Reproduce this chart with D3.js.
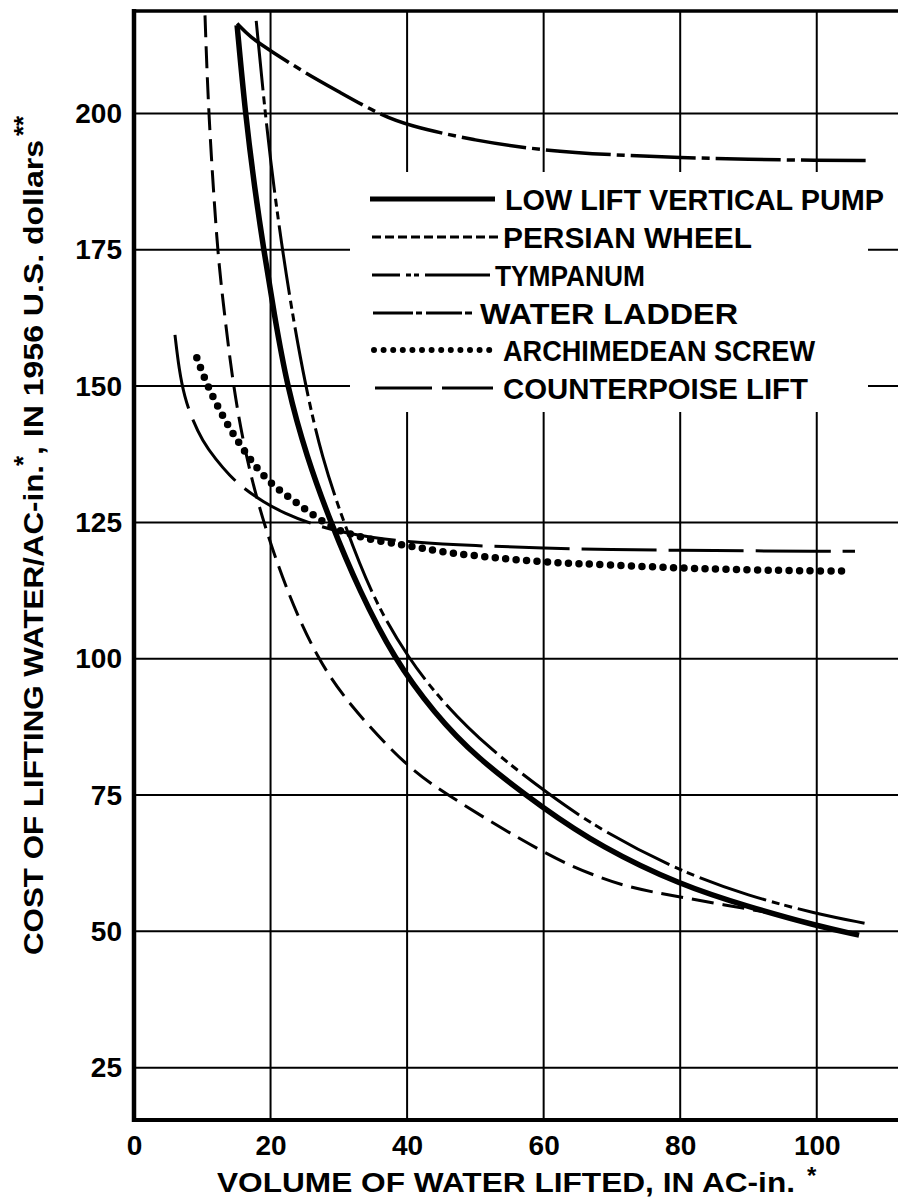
<!DOCTYPE html>
<html>
<head>
<meta charset="utf-8">
<script src="https://cdn.jsdelivr.net/npm/d3@7"></script>
<style>
  body { margin: 0; background: #fff; }
  text { font-family: "Liberation Sans", Arial, sans-serif; font-weight: bold; fill: #000; }
</style>
</head>
<body>
<svg id="chart" width="898" height="1200"></svg>
<script>
// ---- Axis ticks ----
const xTicks = [0, 20, 40, 60, 80, 100];
const yTicks = [25, 50, 75, 100, 125, 150, 175, 200];

// ---- Series (volume in AC-in., cost in 1956 U.S. dollars per AC-in.) ----
const seriesNames = [
  "LOW LIFT VERTICAL PUMP",
  "PERSIAN WHEEL",
  "TYMPANUM",
  "WATER LADDER",
  "ARCHIMEDEAN SCREW",
  "COUNTERPOISE LIFT"
];

const lowLiftVolume = [15.1, 16.3, 17.7, 19.0, 20.5, 22.4, 25.3, 28.8, 33, 38.1, 44, 50, 60, 68.4, 80, 90, 100, 106.2];
const lowLiftCost   = [216.2, 200, 186, 175, 163.5, 150, 137, 125, 112.5, 100, 90, 82, 72.5, 65.5, 58.5, 54.5, 51, 49.3];

const persianVolume = [10.4, 10.9, 12.2, 13.0, 14.5, 16.4, 18.9, 22.8, 26.9, 31.2, 40, 46, 53, 60, 64, 68.4, 72, 76, 80, 88, 95];
const persianCost   = [218, 200, 175, 166, 150, 137, 125, 111, 100, 92, 80, 75, 69.5, 64.5, 62, 59.8, 58.3, 57.2, 56.3, 54.5, 53];

const tympanumVolume = [17.9, 19.2, 20.7, 22.8, 25.1, 27.5, 30.7, 35, 40.2, 45.2, 52, 60.9, 68.4, 80, 90, 100, 107];
const tympanumCost   = [217, 200, 184, 166, 150, 137, 125, 111, 100, 92, 83.5, 75, 68.5, 61, 56.5, 53.2, 51.5];

const ladderVolume = [15.1, 17, 20, 25, 30, 35.7, 40, 50, 60, 70, 80, 90, 100, 108];
const ladderCost   = [216.5, 214, 211.5, 207.5, 204, 200, 197.8, 195, 193.2, 192.4, 191.9, 191.6, 191.4, 191.4];

const screwVolume = [9.2, 10.7, 12.3, 14.1, 15.8, 17.4, 19.5, 21.8, 24.3, 26.8, 29.7, 32.6, 35.7, 39.4, 45.8, 53.1, 59.9, 69.7, 80.2, 90, 99.7, 104.5];
const screwCost   = [155.2, 150.2, 146.2, 142, 138.8, 135.9, 132.8, 130.4, 128.2, 125.8, 123.6, 122.5, 121.6, 120.9, 119.4, 118.5, 117.7, 117.2, 116.6, 116.3, 116.1, 116.1];

const counterVolume = [6, 6.6, 7.4, 8.5, 10, 12, 14, 16, 19, 22, 25.8, 30, 35, 40.4, 50, 60, 70, 80, 90, 100, 105.6];
const counterCost   = [159.4, 153, 148, 144, 140, 136.5, 133.6, 131.3, 128.7, 126.7, 124.8, 123.3, 122.2, 121.4, 120.7, 120.3, 120, 119.9, 119.8, 119.7, 119.7];

// ---- Scales ----
const x = d3.scaleLinear().domain([0, 111.9]).range([134, 898]);
const y = d3.scaleLinear().domain([15.4, 218.8]).range([1120, 11]);

const svg = d3.select("#chart");

// ---- Grid ----
const grid = svg.append("g").attr("stroke", "#000").attr("stroke-width", 2);
grid.selectAll("line.h").data(yTicks).join("line")
  .attr("class", "h")
  .attr("x1", x(0)).attr("x2", 898)
  .attr("y1", d => y(d)).attr("y2", d => y(d));
grid.selectAll("line.v").data(xTicks.filter(d => d > 0)).join("line")
  .attr("class", "v")
  .attr("x1", d => x(d)).attr("x2", d => x(d))
  .attr("y1", y.range()[0]).attr("y2", y.range()[1]);

// legend panel blanks out the grid behind it
const legendBox = { x: 350, y: 172, w: 518, h: 240 };
svg.append("rect")
  .attr("x", legendBox.x).attr("y", legendBox.y)
  .attr("width", legendBox.w).attr("height", legendBox.h)
  .attr("fill", "#fff");

// ---- Curves ----
const styles = [
  { width: 5.5, dash: null, cap: "butt" },
  { width: 3, dash: "22 9", cap: "butt" },
  { width: 3, dash: "70 6 8 5 8 6", cap: "butt" },
  { width: 3.5, dash: "65 6 8 6", cap: "butt" },
  { width: 7.5, dash: "0 10.5", cap: "round" },
  { width: 3, dash: "75 12", cap: "butt" }
];

const series = [
  [lowLiftVolume, lowLiftCost],
  [persianVolume, persianCost],
  [tympanumVolume, tympanumCost],
  [ladderVolume, ladderCost],
  [screwVolume, screwCost],
  [counterVolume, counterCost]
];

const line = d3.line()
  .x(d => x(d[0]))
  .y(d => y(d[1]))
  .curve(d3.curveBasis);

series.forEach(([vx, vy], i) => {
  const pts = vx.map((v, k) => [v, vy[k]]);
  svg.append("path")
    .attr("d", line(pts))
    .attr("fill", "none")
    .attr("stroke", "#000")
    .attr("stroke-width", styles[i].width)
    .attr("stroke-linecap", styles[i].cap)
    .attr("stroke-linejoin", "round")
    .attr("stroke-dasharray", styles[i].dash);
});

// ---- Frame ----
const frame = svg.append("g").attr("stroke", "#000");
frame.append("line").attr("x1", x(0)).attr("x2", x(0)).attr("y1", 9).attr("y2", 1122).attr("stroke-width", 4.5);
frame.append("line").attr("x1", x(0) - 2).attr("x2", 898).attr("y1", 1120).attr("y2", 1120).attr("stroke-width", 4);
frame.append("line").attr("x1", x(0) - 2).attr("x2", 898).attr("y1", 11).attr("y2", 11).attr("stroke-width", 3.5);

// ---- Legend ----
const rowY = [199, 237, 275, 313, 350, 388];
const legendSample = [
  { x1: 370, x2: 495, width: 5, dash: null, cap: "butt" },
  { x1: 372, x2: 499, width: 3, dash: "9 4", cap: "butt" },
  { x1: 372, x2: 490, width: 3, dash: "28 6 5 3 5 6 70", cap: "butt" },
  { x1: 373, x2: 472, width: 3, dash: "40 3 6 4 36 3 7 20", cap: "butt" },
  { x1: 374, x2: 494, width: 6, dash: "0 9.6", cap: "round" },
  { x1: 375, x2: 493, width: 3, dash: "57 10 60", cap: "butt" }
];
const legendText = [
  { x: 505, len: 379 },
  { x: 503, len: 249 },
  { x: 495, len: 150 },
  { x: 480, len: 258 },
  { x: 503, len: 312 },
  { x: 503, len: 305 }
];

const legend = svg.append("g");
seriesNames.forEach((name, i) => {
  const s = legendSample[i];
  legend.append("line")
    .attr("x1", s.x1).attr("x2", s.x2)
    .attr("y1", rowY[i]).attr("y2", rowY[i])
    .attr("stroke", "#000")
    .attr("stroke-width", s.width)
    .attr("stroke-linecap", s.cap)
    .attr("stroke-dasharray", s.dash);
  legend.append("text")
    .attr("x", legendText[i].x)
    .attr("y", rowY[i] + 11)
    .attr("font-size", 29)
    .attr("textLength", legendText[i].len)
    .attr("lengthAdjust", "spacingAndGlyphs")
    .text(name);
});

// ---- Axes (labels only) ----
const xAxis = svg.append("g")
  .attr("transform", `translate(0,${y.range()[0]})`)
  .call(d3.axisBottom(x).tickValues(xTicks).tickSize(0).tickPadding(15).tickFormat(d3.format("d")));
xAxis.select(".domain").remove();
xAxis.selectAll("text").attr("font-size", 28).attr("font-family", null);

const yAxis = svg.append("g")
  .attr("transform", `translate(${x(0)},0)`)
  .call(d3.axisLeft(y).tickValues(yTicks).tickSize(0).tickPadding(12).tickFormat(d3.format("d")));
yAxis.select(".domain").remove();
yAxis.selectAll("text").attr("font-size", 28).attr("font-family", null);

// ---- Axis titles ----
svg.append("text")
  .attr("x", 217).attr("y", 1192)
  .attr("font-size", 27)
  .attr("textLength", 578)
  .attr("lengthAdjust", "spacingAndGlyphs")
  .text("VOLUME OF WATER LIFTED, IN AC-in.");
svg.append("text")
  .attr("x", 807).attr("y", 1184)
  .attr("font-size", 24)
  .text("*");

const yTitle = [
  { at: 955, len: 490, dy: 0, size: 28, txt: "COST OF LIFTING WATER/AC-in." },
  { at: 466, len: null, dy: -11, size: 26, txt: "*" },
  { at: 455, len: 315, dy: 0, size: 28, txt: ", IN 1956 U.S. dollars" },
  { at: 136, len: null, dy: -11, size: 26, txt: "**" }
];
yTitle.forEach(t => {
  const el = svg.append("text")
    .attr("transform", `translate(43,${t.at}) rotate(-90)`)
    .attr("dy", t.dy)
    .attr("font-size", t.size)
    .text(t.txt);
  if (t.len) el.attr("textLength", t.len).attr("lengthAdjust", "spacingAndGlyphs");
});
</script>
</body>
</html>
